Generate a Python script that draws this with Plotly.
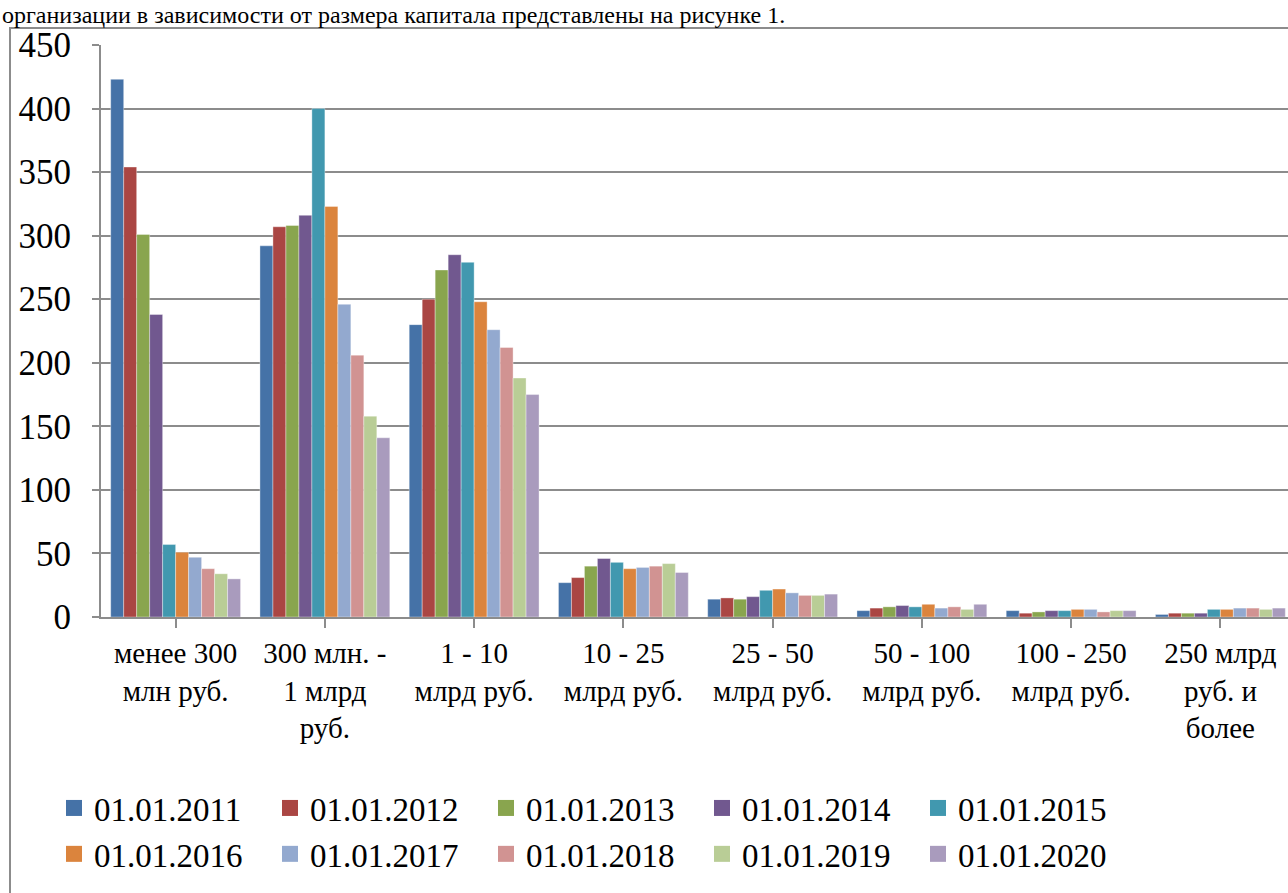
import plotly.graph_objects as go

# Capital-size groups of credit organisations
categories = [
    "менее 300<br>млн руб.",
    "300 млн. -<br>1 млрд<br>руб.",
    "1 - 10<br>млрд руб.",
    "10 - 25<br>млрд руб.",
    "25 - 50<br>млрд руб.",
    "50 - 100<br>млрд руб.",
    "100 - 250<br>млрд руб.",
    "250 млрд<br>руб. и<br>более",
]

dates = ["01.01.2011", "01.01.2012", "01.01.2013", "01.01.2014", "01.01.2015",
         "01.01.2016", "01.01.2017", "01.01.2018", "01.01.2019", "01.01.2020"]

v2011 = [423, 292, 230, 27, 14, 5, 5, 2]
v2012 = [354, 307, 250, 31, 15, 7, 3, 3]
v2013 = [301, 308, 273, 40, 14, 8, 4, 3]
v2014 = [238, 316, 285, 46, 16, 9, 5, 3]
v2015 = [57, 400, 279, 43, 21, 8, 5, 6]
v2016 = [51, 323, 248, 38, 22, 10, 6, 6]
v2017 = [47, 246, 226, 39, 19, 7, 6, 7]
v2018 = [38, 206, 212, 40, 17, 8, 4, 7]
v2019 = [34, 158, 188, 42, 17, 6, 5, 6]
v2020 = [30, 141, 175, 35, 18, 10, 5, 7]

series = [v2011, v2012, v2013, v2014, v2015, v2016, v2017, v2018, v2019, v2020]

colors = ["#4572A7", "#AA4643", "#89A54E", "#71588F", "#4198AF",
          "#DB843D", "#93A9CF", "#D19392", "#B9CD96", "#A99BBD"]

W, H = 1288, 893
L, R, T, B = 101, 0, 45, 276
PW, PH = W - L - R, H - T - B


def px_x(x):
    return (x - L) / PW


def px_y(y):
    return (H - B - y) / PH


SERIF = "Liberation Serif"
GRID = "#8C8C8C"

fig = go.Figure()

for name, vals, col in zip(dates, series, colors):
    fig.add_trace(go.Bar(
        x=list(range(len(categories))), y=vals, name=name,
        marker=dict(color=col, line=dict(color="rgba(255,255,255,0.6)", width=0.6)),
        showlegend=False,
    ))

# legend entries with larger square swatches
for name, col in zip(dates, colors):
    fig.add_trace(go.Scatter(
        x=[None], y=[None], mode="markers", name=name,
        marker=dict(symbol="square", size=16, color=col),
    ))

fig.update_layout(
    width=W, height=H,
    margin=dict(l=L, r=R, t=T, b=B, pad=0),
    paper_bgcolor="white", plot_bgcolor="white",
    barmode="group", bargap=0.13, bargroupgap=0,
    font=dict(family=SERIF, color="black"),
    xaxis=dict(
        range=[-0.5, 7.453],
        tickmode="array",
        tickvals=list(range(len(categories))),
        ticktext=categories,
        tickson="boundaries",
        ticks="outside", ticklen=9, tickwidth=2, tickcolor=GRID,
        showline=True, linecolor=GRID, linewidth=2,
        showgrid=False, zeroline=False,
        tickfont=dict(size=29, family=SERIF, color="black"),
        tickangle=0, automargin=False,
    ),
    yaxis=dict(
        range=[0, 450],
        tickmode="array",
        tickvals=list(range(0, 451, 50)),
        ticks="outside", ticklen=7, tickwidth=2, tickcolor=GRID,
        showline=True, linecolor=GRID, linewidth=2,
        showgrid=True, gridcolor=GRID, gridwidth=2,
        zeroline=False, automargin=False,
        ticklabelstandoff=14,
        tickfont=dict(size=35, family=SERIF, color="black"),
    ),
    legend=dict(
        orientation="h",
        x=px_x(54), xanchor="left",
        y=px_y(780), yanchor="top",
        font=dict(size=33, family=SERIF, color="black"),
        entrywidth=171, entrywidthmode="pixels",
        itemwidth=30,
        bgcolor="rgba(0,0,0,0)",
    ),
    shapes=[
        dict(type="rect", xref="paper", yref="paper",
             x0=px_x(10), x1=px_x(1300), y0=px_y(28), y1=px_y(905),
             line=dict(color="#8C8C8C", width=2), fillcolor="rgba(0,0,0,0)",
             layer="below"),
    ],
    annotations=[
        dict(text="организации в зависимости от размера капитала представлены на рисунке 1.",
             xref="paper", yref="paper", x=px_x(0), y=px_y(0),
             xanchor="left", yanchor="top", showarrow=False,
             font=dict(size=24, family=SERIF, color="black")),
    ],
)

fig.write_html("out.html")
